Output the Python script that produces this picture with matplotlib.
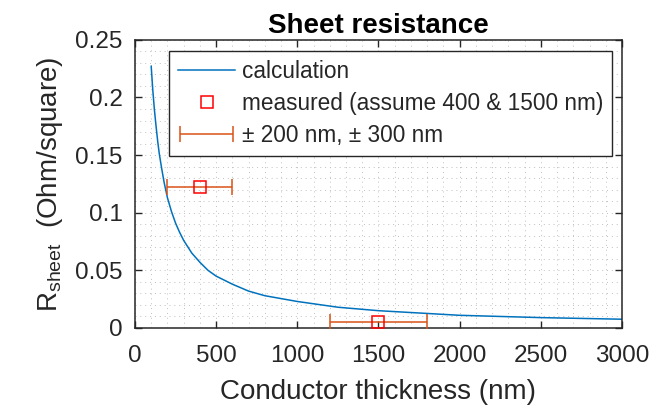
import numpy as np
import matplotlib
matplotlib.use("Agg")
from matplotlib import pyplot as plt
from matplotlib.ticker import MultipleLocator
from matplotlib.legend_handler import HandlerErrorbar
from matplotlib.container import ErrorbarContainer

# calculated sheet resistance curve
thickness = [100, 110, 120, 130, 140, 150, 165, 180, 200, 225, 250, 275, 300,
             350, 400, 450, 500, 600, 700, 800, 1000, 1250, 1500, 1750, 2000,
             2500, 3000]
r_sheet = [0.227, 0.206, 0.189, 0.175, 0.162, 0.151, 0.138, 0.126, 0.113,
           0.101, 0.091, 0.083, 0.076, 0.065, 0.057, 0.050, 0.045, 0.038,
           0.032, 0.028, 0.023, 0.018, 0.015, 0.013, 0.011, 0.009, 0.0076]

# measured points and thickness uncertainty
meas_x = [400, 1500]
meas_y = [0.122, 0.005]
meas_err = [200, 300]

plt.rcParams['font.family'] = ['Liberation Sans', 'DejaVu Sans']

fig = plt.figure(figsize=(6.52, 4.11), dpi=100)
ax = fig.add_axes([0.207, 0.202, 0.747, 0.701])

ax.plot(thickness, r_sheet, color='#0072BD', linewidth=1.1, label='calculation')
ax.plot(meas_x, meas_y, 's', markersize=8, markerfacecolor='none',
        markeredgecolor='#FF0000', markeredgewidth=1.1, zorder=4,
        label='measured (assume 400 & 1500 nm)')
ax.errorbar(meas_x, meas_y, xerr=meas_err, fmt='none', ecolor='#D95319',
            elinewidth=1.1, capsize=5.5, capthick=1.1, zorder=3,
            label='\u00b1 200 nm, \u00b1 300 nm')

ax.set_xlim(0, 3000)
ax.set_ylim(0, 0.25)
ax.xaxis.set_major_locator(MultipleLocator(500))
ax.xaxis.set_minor_locator(MultipleLocator(100))
ax.yaxis.set_minor_locator(MultipleLocator(0.01))
ax.set_yticks([0, 0.05, 0.1, 0.15, 0.2, 0.25])
ax.set_yticklabels(['0', '0.05', '0.1', '0.15', '0.2', '0.25'])

ax.grid(which='both', linestyle=(0, (1, 4)), color='#c0c0c0', linewidth=0.7)
ax.tick_params(which='both', direction='in', top=True, right=True,
               labelsize=17.5, color='#262626', labelcolor='#262626')
ax.tick_params(which='major', length=5, width=1)
ax.tick_params(axis='x', which='major', pad=12)
ax.tick_params(axis='y', which='major', pad=9)
ax.tick_params(which='minor', length=0)
for s in ax.spines.values():
    s.set_color('#262626')
    s.set_linewidth(1.1)

ax.set_title('Sheet resistance', fontsize=20, fontweight='bold', pad=5.3)
ax.set_xlabel('Conductor thickness (nm)', fontsize=20, labelpad=9,
              color='#262626')
ax.set_ylabel(r'R$_\mathregular{sheet}$  (Ohm/square)', fontsize=20,
              labelpad=7, color='#262626')

leg = ax.legend(loc='upper right', bbox_to_anchor=(0.9795, 0.962),
                borderaxespad=0, fontsize=16.3,
                fancybox=False, framealpha=1, edgecolor='#262626',
                handlelength=2.5, borderpad=0.4, labelspacing=0.4,
                handletextpad=0.3,
                handler_map={ErrorbarContainer: HandlerErrorbar(xerr_size=1.15)})
leg.get_frame().set_linewidth(1.0)
for t in leg.get_texts():
    t.set_color('#262626')

fig.savefig('out.png', dpi=100)
